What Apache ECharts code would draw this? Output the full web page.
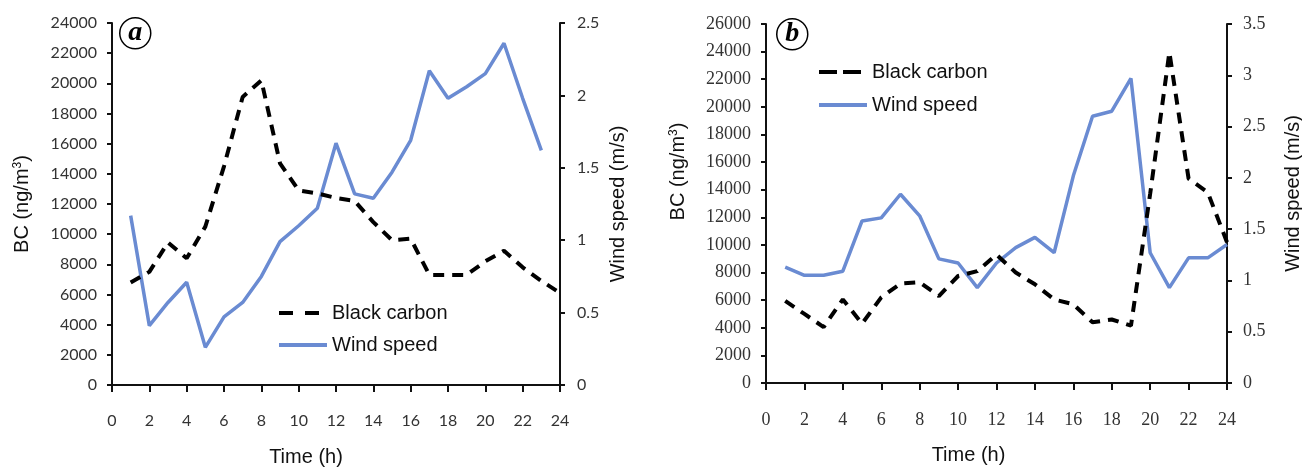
<!DOCTYPE html>
<html>
<head>
<meta charset="utf-8">
<script src="https://cdn.jsdelivr.net/npm/echarts@6/dist/echarts.min.js"></script>
<style>
html,body{margin:0;padding:0;background:#fff;}
#c{width:1302px;height:470px;}
</style>
</head>
<body>
<div id="c"></div>
<script>
// ---- Data ----
var hoursA_BC = [1,2,3,4,5,6,7,8,9,10,11,12,13,14,15,16,17,18,19,20,21,22,23,24];
var bcA = [6800,7500,9450,8400,10500,14500,19100,20200,14700,12900,12700,12400,12200,10800,9600,9700,7300,7300,7300,8200,8900,7800,6900,6100];
var hoursA_WS = [1,2,3,4,5,6,7,8,9,10,11,12,13,14,15,16,17,18,19,20,21,22,23];
var wsA = [1.17,0.41,0.57,0.71,0.26,0.47,0.57,0.75,0.99,1.10,1.22,1.67,1.32,1.29,1.47,1.69,2.17,1.98,2.06,2.15,2.36,1.98,1.62];

var hoursB = [1,2,3,4,5,6,7,8,9,10,11,12,13,14,15,16,17,18,19,20,21,22,23,24];
var bcB = [5950,5000,4050,6050,4300,6200,7200,7300,6300,7750,8100,9300,8000,7150,6050,5700,4400,4600,4150,13700,23950,14800,13800,10200];
var wsB = [1.13,1.05,1.05,1.09,1.58,1.61,1.84,1.63,1.21,1.17,0.93,1.17,1.32,1.42,1.27,2.02,2.60,2.65,2.97,1.27,0.93,1.22,1.22,1.35];

var xTicks = {min:0, max:24, interval:2};
var bcAxisA = {min:0, max:24000, interval:2000};
var wsAxisA = {min:0, max:2.5, interval:0.5};
var bcAxisB = {min:0, max:26000, interval:2000};
var wsAxisB = {min:0, max:3.5, interval:0.5};

var seriesNames = ['Black carbon','Wind speed'];
var panelLabels = ['a','b'];

function pairs(xs, ys){ return ys.map(function(v,i){ return [xs[i], v]; }); }
function plain(v){ return String(v); }

var SANS = '"Liberation Sans", Arial, sans-serif';
var TICKA = 'Lato, "Open Sans", sans-serif';
var SERIF = '"Liberation Serif", "Times New Roman", serif';
var BLUE = '#6a8bd2';

function xAx(grid, font, fsize, pad){
  return {
    type:'value', gridIndex:grid, min:xTicks.min, max:xTicks.max, interval:xTicks.interval,
    axisLine:{show:true, onZero:false, lineStyle:{color:'#111', width:2}},
    axisTick:{show:true, length:7, lineStyle:{color:'#111', width:2}},
    axisLabel:{margin:28, fontFamily:font, fontSize:fsize, color:'#333', formatter:plain},
    splitLine:{show:false},
    name:'Time (h)', nameLocation:'middle', nameGap:62,
    nameTextStyle:{fontFamily:SANS, fontSize:20, color:'#111', padding:pad}
  };
}
function yAx(grid, pos, rng, font, fsize, name, gap, pad, lmargin){
  return {
    type:'value', gridIndex:grid, position:pos, min:rng.min, max:rng.max, interval:rng.interval,
    axisLine:{show:true, lineStyle:{color:'#111', width:2}},
    axisTick:{show:true, length:5, lineStyle:{color:'#111', width:2}},
    axisLabel:{margin:lmargin, fontFamily:font, fontSize:fsize, color:'#333', formatter:plain},
    splitLine:{show:false},
    name:name, nameLocation:'middle', nameGap:gap, nameRotate:90,
    nameTextStyle:{fontFamily:SANS, fontSize:20, color:'#111', padding:pad,
      rich:{sup:{fontFamily:SANS, fontSize:12, color:'#111', verticalAlign:'top', padding:[0,0,8,0]}}}
  };
}

var bcName = 'BC (ng/m{sup|3})';

function leg(name, top, left, ls){
  return {data:[name], left:left, top:top, padding:0, itemWidth:48, itemHeight:14,
    textStyle:{fontFamily:SANS, fontSize:20, color:'#111', lineHeight:24},
    itemStyle:{opacity:0, borderWidth:0}, lineStyle:ls};
}

var option = {
  animation:false,
  grid:[
    {left:112, top:23, width:448, height:362, outerBoundsMode:'none', containLabel:false},
    {left:766, top:24, width:461, height:359, outerBoundsMode:'none', containLabel:false}
  ],
  xAxis:[ xAx(0, TICKA, 16, [0,60,0,0]), xAx(1, SERIF, 18, [0,56,0,0]) ],
  yAxis:[
    yAx(0,'left', bcAxisA, TICKA, 16, bcName, 80, [0,0,0,0], 15),
    yAx(0,'right', wsAxisA, TICKA, 16, 'Wind speed (m/s)', 48, [0,0,0,0], 17),
    yAx(1,'left', bcAxisB, SERIF, 18, bcName, 78, [0,0,0,64], 15),
    yAx(1,'right', wsAxisB, SERIF, 18, 'Wind speed (m/s)', 56, [0,0,0,20], 16)
  ],
  legend:[
    leg(seriesNames[0], 301, 277, {type:[14,12], width:4, color:'#000'}),
    leg(seriesNames[1], 333, 277, {width:4, color:BLUE}),
    leg(seriesNames[0], 60, 817, {type:[18,6], width:4, color:'#000'}),
    leg(seriesNames[1], 93, 817, {width:4, color:BLUE})
  ],
  series:[
    {name:seriesNames[0], type:'line', xAxisIndex:0, yAxisIndex:0, symbol:'none', data:pairs(hoursA_BC, bcA),
     lineStyle:{color:'#000', width:4, type:[11,8]}, itemStyle:{color:'#000'}, z:3},
    {name:seriesNames[1], type:'line', xAxisIndex:0, yAxisIndex:1, symbol:'none', data:pairs(hoursA_WS, wsA),
     lineStyle:{color:BLUE, width:3.5}, itemStyle:{color:BLUE}, z:2},
    {name:seriesNames[0], type:'line', xAxisIndex:1, yAxisIndex:2, symbol:'none', data:pairs(hoursB, bcB),
     lineStyle:{color:'#000', width:4, type:[11,8]}, itemStyle:{color:'#000'}, z:3},
    {name:seriesNames[1], type:'line', xAxisIndex:1, yAxisIndex:3, symbol:'none', data:pairs(hoursB, wsB),
     lineStyle:{color:BLUE, width:3.5}, itemStyle:{color:BLUE}, z:2}
  ],
  graphic:[
    {type:'group', left:119, top:17, children:[
      {type:'circle', shape:{cx:16, cy:16, r:15.5}, style:{fill:'#fff', stroke:'#000', lineWidth:1.5}},
      {type:'text', x:16, y:16, style:{text:panelLabels[0], fontFamily:SERIF, fontSize:28, fontWeight:'bold', fontStyle:'italic', fill:'#000', align:'center', verticalAlign:'middle'}}
    ]},
    {type:'group', left:776, top:18, children:[
      {type:'circle', shape:{cx:16, cy:16, r:15.5}, style:{fill:'#fff', stroke:'#000', lineWidth:1.5}},
      {type:'text', x:16, y:16, style:{text:panelLabels[1], fontFamily:SERIF, fontSize:28, fontWeight:'bold', fontStyle:'italic', fill:'#000', align:'center', verticalAlign:'middle'}}
    ]}
  ]
};
var chart = echarts.init(document.getElementById('c'));
chart.setOption(option);
</script>
</body>
</html>
